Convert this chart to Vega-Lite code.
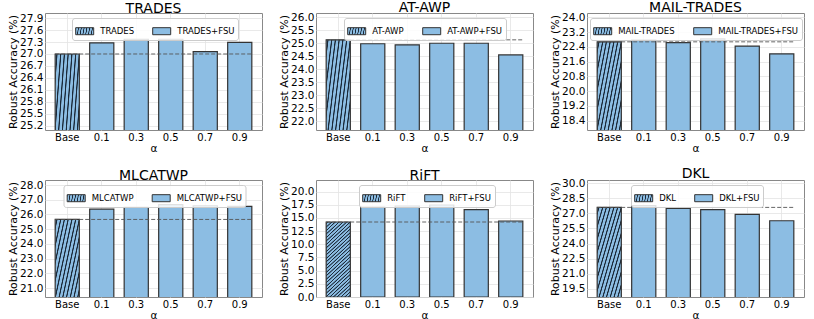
{
  "$schema": "https://vega.github.io/schema/vega-lite/v6.json",
  "padding": {"left": 7, "top": 0, "right": 0, "bottom": 0},
  "params": [
    {"name": "bhatch", "value": {"gradient": "linear", "x1": 0, "y1": 0, "x2": 0.358, "y2": 1.193, "stops": [
      {"offset": 0.008, "color": "#8cbde3"}, {"offset": 0.014, "color": "#1b2a3a"}, {"offset": 0.020, "color": "#1b2a3a"}, {"offset": 0.026, "color": "#8cbde3"},
      {"offset": 0.044, "color": "#8cbde3"}, {"offset": 0.050, "color": "#1b2a3a"}, {"offset": 0.056, "color": "#1b2a3a"}, {"offset": 0.062, "color": "#8cbde3"},
      {"offset": 0.079, "color": "#8cbde3"}, {"offset": 0.085, "color": "#1b2a3a"}, {"offset": 0.091, "color": "#1b2a3a"}, {"offset": 0.097, "color": "#8cbde3"},
      {"offset": 0.115, "color": "#8cbde3"}, {"offset": 0.121, "color": "#1b2a3a"}, {"offset": 0.127, "color": "#1b2a3a"}, {"offset": 0.133, "color": "#8cbde3"},
      {"offset": 0.151, "color": "#8cbde3"}, {"offset": 0.157, "color": "#1b2a3a"}, {"offset": 0.163, "color": "#1b2a3a"}, {"offset": 0.169, "color": "#8cbde3"},
      {"offset": 0.187, "color": "#8cbde3"}, {"offset": 0.193, "color": "#1b2a3a"}, {"offset": 0.199, "color": "#1b2a3a"}, {"offset": 0.205, "color": "#8cbde3"},
      {"offset": 0.222, "color": "#8cbde3"}, {"offset": 0.228, "color": "#1b2a3a"}, {"offset": 0.234, "color": "#1b2a3a"}, {"offset": 0.240, "color": "#8cbde3"},
      {"offset": 0.258, "color": "#8cbde3"}, {"offset": 0.264, "color": "#1b2a3a"}, {"offset": 0.270, "color": "#1b2a3a"}, {"offset": 0.276, "color": "#8cbde3"},
      {"offset": 0.294, "color": "#8cbde3"}, {"offset": 0.300, "color": "#1b2a3a"}, {"offset": 0.306, "color": "#1b2a3a"}, {"offset": 0.312, "color": "#8cbde3"},
      {"offset": 0.329, "color": "#8cbde3"}, {"offset": 0.335, "color": "#1b2a3a"}, {"offset": 0.341, "color": "#1b2a3a"}, {"offset": 0.347, "color": "#8cbde3"},
      {"offset": 0.365, "color": "#8cbde3"}, {"offset": 0.371, "color": "#1b2a3a"}, {"offset": 0.377, "color": "#1b2a3a"}, {"offset": 0.383, "color": "#8cbde3"},
      {"offset": 0.401, "color": "#8cbde3"}, {"offset": 0.407, "color": "#1b2a3a"}, {"offset": 0.413, "color": "#1b2a3a"}, {"offset": 0.419, "color": "#8cbde3"},
      {"offset": 0.437, "color": "#8cbde3"}, {"offset": 0.443, "color": "#1b2a3a"}, {"offset": 0.449, "color": "#1b2a3a"}, {"offset": 0.455, "color": "#8cbde3"},
      {"offset": 0.472, "color": "#8cbde3"}, {"offset": 0.478, "color": "#1b2a3a"}, {"offset": 0.484, "color": "#1b2a3a"}, {"offset": 0.490, "color": "#8cbde3"},
      {"offset": 0.508, "color": "#8cbde3"}, {"offset": 0.514, "color": "#1b2a3a"}, {"offset": 0.520, "color": "#1b2a3a"}, {"offset": 0.526, "color": "#8cbde3"},
      {"offset": 0.544, "color": "#8cbde3"}, {"offset": 0.550, "color": "#1b2a3a"}, {"offset": 0.556, "color": "#1b2a3a"}, {"offset": 0.562, "color": "#8cbde3"},
      {"offset": 0.579, "color": "#8cbde3"}, {"offset": 0.585, "color": "#1b2a3a"}, {"offset": 0.591, "color": "#1b2a3a"}, {"offset": 0.597, "color": "#8cbde3"},
      {"offset": 0.615, "color": "#8cbde3"}, {"offset": 0.621, "color": "#1b2a3a"}, {"offset": 0.627, "color": "#1b2a3a"}, {"offset": 0.633, "color": "#8cbde3"},
      {"offset": 0.651, "color": "#8cbde3"}, {"offset": 0.657, "color": "#1b2a3a"}, {"offset": 0.663, "color": "#1b2a3a"}, {"offset": 0.669, "color": "#8cbde3"},
      {"offset": 0.687, "color": "#8cbde3"}, {"offset": 0.693, "color": "#1b2a3a"}, {"offset": 0.699, "color": "#1b2a3a"}, {"offset": 0.705, "color": "#8cbde3"},
      {"offset": 0.722, "color": "#8cbde3"}, {"offset": 0.728, "color": "#1b2a3a"}, {"offset": 0.734, "color": "#1b2a3a"}, {"offset": 0.740, "color": "#8cbde3"},
      {"offset": 0.758, "color": "#8cbde3"}, {"offset": 0.764, "color": "#1b2a3a"}, {"offset": 0.770, "color": "#1b2a3a"}, {"offset": 0.776, "color": "#8cbde3"},
      {"offset": 0.794, "color": "#8cbde3"}, {"offset": 0.800, "color": "#1b2a3a"}, {"offset": 0.806, "color": "#1b2a3a"}, {"offset": 0.812, "color": "#8cbde3"},
      {"offset": 0.829, "color": "#8cbde3"}, {"offset": 0.835, "color": "#1b2a3a"}, {"offset": 0.841, "color": "#1b2a3a"}, {"offset": 0.847, "color": "#8cbde3"},
      {"offset": 0.865, "color": "#8cbde3"}, {"offset": 0.871, "color": "#1b2a3a"}, {"offset": 0.877, "color": "#1b2a3a"}, {"offset": 0.883, "color": "#8cbde3"},
      {"offset": 0.901, "color": "#8cbde3"}, {"offset": 0.907, "color": "#1b2a3a"}, {"offset": 0.913, "color": "#1b2a3a"}, {"offset": 0.919, "color": "#8cbde3"},
      {"offset": 0.937, "color": "#8cbde3"}, {"offset": 0.943, "color": "#1b2a3a"}, {"offset": 0.949, "color": "#1b2a3a"}, {"offset": 0.955, "color": "#8cbde3"},
      {"offset": 0.972, "color": "#8cbde3"}, {"offset": 0.978, "color": "#1b2a3a"}, {"offset": 0.984, "color": "#1b2a3a"}, {"offset": 0.990, "color": "#8cbde3"}
    ]}},
    {"name": "lhatch", "value": {"gradient": "linear", "x1": 0, "y1": 0, "x2": 1.206, "y2": 0.469, "stops": [
      {"offset": 0.03, "color": "#8cbde3"}, {"offset": 0.06, "color": "#1b2a3a"}, {"offset": 0.09, "color": "#1b2a3a"}, {"offset": 0.12, "color": "#8cbde3"},
      {"offset": 0.197, "color": "#8cbde3"}, {"offset": 0.227, "color": "#1b2a3a"}, {"offset": 0.257, "color": "#1b2a3a"}, {"offset": 0.287, "color": "#8cbde3"},
      {"offset": 0.363, "color": "#8cbde3"}, {"offset": 0.393, "color": "#1b2a3a"}, {"offset": 0.423, "color": "#1b2a3a"}, {"offset": 0.453, "color": "#8cbde3"},
      {"offset": 0.53, "color": "#8cbde3"}, {"offset": 0.56, "color": "#1b2a3a"}, {"offset": 0.59, "color": "#1b2a3a"}, {"offset": 0.62, "color": "#8cbde3"},
      {"offset": 0.697, "color": "#8cbde3"}, {"offset": 0.727, "color": "#1b2a3a"}, {"offset": 0.757, "color": "#1b2a3a"}, {"offset": 0.787, "color": "#8cbde3"},
      {"offset": 0.863, "color": "#8cbde3"}, {"offset": 0.893, "color": "#1b2a3a"}, {"offset": 0.923, "color": "#1b2a3a"}, {"offset": 0.953, "color": "#8cbde3"}
    ]}}
  ],
  "data": {"values": [
    {"p": "TRADES", "c": "Base", "v": 27.0, "m": "TRADES"},
    {"p": "TRADES", "c": "0.1", "v": 27.28, "m": "TRADES+FSU"},
    {"p": "TRADES", "c": "0.3", "v": 27.37, "m": "TRADES+FSU"},
    {"p": "TRADES", "c": "0.5", "v": 27.37, "m": "TRADES+FSU"},
    {"p": "TRADES", "c": "0.7", "v": 27.06, "m": "TRADES+FSU"},
    {"p": "TRADES", "c": "0.9", "v": 27.29, "m": "TRADES+FSU"},
    {"p": "AT-AWP", "c": "Base", "v": 25.13, "m": "AT-AWP"},
    {"p": "AT-AWP", "c": "0.1", "v": 24.98, "m": "AT-AWP+FSU"},
    {"p": "AT-AWP", "c": "0.3", "v": 24.94, "m": "AT-AWP+FSU"},
    {"p": "AT-AWP", "c": "0.5", "v": 25.0, "m": "AT-AWP+FSU"},
    {"p": "AT-AWP", "c": "0.7", "v": 25.0, "m": "AT-AWP+FSU"},
    {"p": "AT-AWP", "c": "0.9", "v": 24.55, "m": "AT-AWP+FSU"},
    {"p": "MAIL-TRADES", "c": "Base", "v": 22.67, "m": "MAIL-TRADES"},
    {"p": "MAIL-TRADES", "c": "0.1", "v": 22.76, "m": "MAIL-TRADES+FSU"},
    {"p": "MAIL-TRADES", "c": "0.3", "v": 22.63, "m": "MAIL-TRADES+FSU"},
    {"p": "MAIL-TRADES", "c": "0.5", "v": 22.83, "m": "MAIL-TRADES+FSU"},
    {"p": "MAIL-TRADES", "c": "0.7", "v": 22.44, "m": "MAIL-TRADES+FSU"},
    {"p": "MAIL-TRADES", "c": "0.9", "v": 22.02, "m": "MAIL-TRADES+FSU"},
    {"p": "MLCATWP", "c": "Base", "v": 25.66, "m": "MLCATWP"},
    {"p": "MLCATWP", "c": "0.1", "v": 26.36, "m": "MLCATWP+FSU"},
    {"p": "MLCATWP", "c": "0.3", "v": 26.48, "m": "MLCATWP+FSU"},
    {"p": "MLCATWP", "c": "0.5", "v": 26.66, "m": "MLCATWP+FSU"},
    {"p": "MLCATWP", "c": "0.7", "v": 26.59, "m": "MLCATWP+FSU"},
    {"p": "MLCATWP", "c": "0.9", "v": 26.55, "m": "MLCATWP+FSU"},
    {"p": "RiFT", "c": "Base", "v": 14.23, "m": "RiFT"},
    {"p": "RiFT", "c": "0.1", "v": 17.08, "m": "RiFT+FSU"},
    {"p": "RiFT", "c": "0.3", "v": 17.27, "m": "RiFT+FSU"},
    {"p": "RiFT", "c": "0.5", "v": 17.46, "m": "RiFT+FSU"},
    {"p": "RiFT", "c": "0.7", "v": 16.57, "m": "RiFT+FSU"},
    {"p": "RiFT", "c": "0.9", "v": 14.42, "m": "RiFT+FSU"},
    {"p": "DKL", "c": "Base", "v": 27.6, "m": "DKL"},
    {"p": "DKL", "c": "0.1", "v": 27.77, "m": "DKL+FSU"},
    {"p": "DKL", "c": "0.3", "v": 27.5, "m": "DKL+FSU"},
    {"p": "DKL", "c": "0.5", "v": 27.37, "m": "DKL+FSU"},
    {"p": "DKL", "c": "0.7", "v": 26.9, "m": "DKL+FSU"},
    {"p": "DKL", "c": "0.9", "v": 26.27, "m": "DKL+FSU"}
  ]},
  "columns": 3,
  "spacing": {"row": 12, "column": 15},
  "resolve": {"scale": {"fill": "independent", "y": "independent", "x": "independent"}, "legend": {"fill": "independent"}},
  "concat": [
    {"title": {"text": "TRADES", "fontWeight": 400}, "width": 217, "height": 117,
     "transform": [{"filter": "datum.p == 'TRADES'"}],
     "layer": [
      {"mark": {"type": "bar", "stroke": "#333333", "strokeWidth": 1.2, "clip": true},
       "encoding": {
        "x": {"field": "c", "type": "nominal", "sort": null, "scale": {"paddingInner": 0.3, "paddingOuter": 0.295}, "axis": {"title": "α", "labelOverlap": false}},
        "y": {"field": "v", "type": "quantitative", "scale": {"domain": [25.09, 28.03], "zero": false, "nice": false}, "axis": {"title": "Robust Accuracy (%)", "labelOverlap": false, "tickCount": 50, "values": [25.2, 25.5, 25.8, 26.1, 26.4, 26.7, 27.0, 27.3, 27.6, 27.9], "format": ".1f"}},
        "fill": {"field": "m", "type": "nominal", "scale": {"range": [{"expr": "bhatch"}, "#8cbde3"]}, "legend": {"legendX": 27, "legendY": 5, "encode": {"symbols": {"update": {"fill": [{"test": "indexof(datum.value,'+FSU')<0", "signal": "lhatch"}, {"value": "#8cbde3"}], "stroke": {"value": "#333333"}, "strokeWidth": {"value": 1}, "opacity": {"value": 1}}}}}}
       }},
      {"transform": [{"filter": "datum.c == 'Base'"}],
       "mark": {"type": "rule", "strokeDash": [4, 2], "color": "#555555", "strokeWidth": 0.9},
       "encoding": {"y": {"field": "v", "type": "quantitative"}, "x": {"datum": "Base", "bandPosition": 0}, "x2": {"datum": "0.9", "bandPosition": 1}}}
     ]},
    {"title": {"text": "AT-AWP", "fontWeight": 400}, "width": 217, "height": 117,
     "transform": [{"filter": "datum.p == 'AT-AWP'"}],
     "layer": [
      {"mark": {"type": "bar", "stroke": "#333333", "strokeWidth": 1.2, "clip": true},
       "encoding": {
        "x": {"field": "c", "type": "nominal", "sort": null, "scale": {"paddingInner": 0.3, "paddingOuter": 0.295}, "axis": {"title": "α", "labelOverlap": false}},
        "y": {"field": "v", "type": "quantitative", "scale": {"domain": [21.67, 26.16], "zero": false, "nice": false}, "axis": {"title": "Robust Accuracy (%)", "labelOverlap": false, "tickCount": 50, "values": [22.0, 22.5, 23.0, 23.5, 24.0, 24.5, 25.0, 25.5, 26.0], "format": ".1f"}},
        "fill": {"field": "m", "type": "nominal", "scale": {"range": [{"expr": "bhatch"}, "#8cbde3"]}, "legend": {"legendX": 28, "legendY": 5, "encode": {"symbols": {"update": {"fill": [{"test": "indexof(datum.value,'+FSU')<0", "signal": "lhatch"}, {"value": "#8cbde3"}], "stroke": {"value": "#333333"}, "strokeWidth": {"value": 1}, "opacity": {"value": 1}}}}}}
       }},
      {"transform": [{"filter": "datum.c == 'Base'"}],
       "mark": {"type": "rule", "strokeDash": [4, 2], "color": "#555555", "strokeWidth": 0.9},
       "encoding": {"y": {"field": "v", "type": "quantitative"}, "x": {"datum": "Base", "bandPosition": 0}, "x2": {"datum": "0.9", "bandPosition": 1}}}
     ]},
    {"title": {"text": "MAIL-TRADES", "fontWeight": 400}, "width": 217, "height": 117,
     "transform": [{"filter": "datum.p == 'MAIL-TRADES'"}],
     "layer": [
      {"mark": {"type": "bar", "stroke": "#333333", "strokeWidth": 1.2, "clip": true},
       "encoding": {
        "x": {"field": "c", "type": "nominal", "sort": null, "scale": {"paddingInner": 0.3, "paddingOuter": 0.295}, "axis": {"title": "α", "labelOverlap": false}},
        "y": {"field": "v", "type": "quantitative", "scale": {"domain": [17.9, 24.23], "zero": false, "nice": false}, "axis": {"title": "Robust Accuracy (%)", "labelOverlap": false, "tickCount": 50, "values": [18.4, 19.2, 20.0, 20.8, 21.6, 22.4, 23.2, 24.0], "format": ".1f"}},
        "fill": {"field": "m", "type": "nominal", "scale": {"range": [{"expr": "bhatch"}, "#8cbde3"]}, "legend": {"legendX": 3, "legendY": 5, "encode": {"symbols": {"update": {"fill": [{"test": "indexof(datum.value,'+FSU')<0", "signal": "lhatch"}, {"value": "#8cbde3"}], "stroke": {"value": "#333333"}, "strokeWidth": {"value": 1}, "opacity": {"value": 1}}}}}}
       }},
      {"transform": [{"filter": "datum.c == 'Base'"}],
       "mark": {"type": "rule", "strokeDash": [4, 2], "color": "#555555", "strokeWidth": 0.9},
       "encoding": {"y": {"field": "v", "type": "quantitative"}, "x": {"datum": "Base", "bandPosition": 0}, "x2": {"datum": "0.9", "bandPosition": 1}}}
     ]},
    {"title": {"text": "MLCATWP", "fontWeight": 400}, "width": 217, "height": 117,
     "transform": [{"filter": "datum.p == 'MLCATWP'"}],
     "layer": [
      {"mark": {"type": "bar", "stroke": "#333333", "strokeWidth": 1.2, "clip": true},
       "encoding": {
        "x": {"field": "c", "type": "nominal", "sort": null, "scale": {"paddingInner": 0.3, "paddingOuter": 0.295}, "axis": {"title": "α", "labelOverlap": false}},
        "y": {"field": "v", "type": "quantitative", "scale": {"domain": [20.39, 28.34], "zero": false, "nice": false}, "axis": {"title": "Robust Accuracy (%)", "labelOverlap": false, "tickCount": 50, "values": [21, 22, 23, 24, 25, 26, 27, 28], "format": ".1f"}},
        "fill": {"field": "m", "type": "nominal", "scale": {"range": [{"expr": "bhatch"}, "#8cbde3"]}, "legend": {"legendX": 18.5, "legendY": 5, "encode": {"symbols": {"update": {"fill": [{"test": "indexof(datum.value,'+FSU')<0", "signal": "lhatch"}, {"value": "#8cbde3"}], "stroke": {"value": "#333333"}, "strokeWidth": {"value": 1}, "opacity": {"value": 1}}}}}}
       }},
      {"transform": [{"filter": "datum.c == 'Base'"}],
       "mark": {"type": "rule", "strokeDash": [4, 2], "color": "#555555", "strokeWidth": 0.9},
       "encoding": {"y": {"field": "v", "type": "quantitative"}, "x": {"datum": "Base", "bandPosition": 0}, "x2": {"datum": "0.9", "bandPosition": 1}}}
     ]},
    {"title": {"text": "RiFT", "fontWeight": 400}, "width": 217, "height": 117,
     "transform": [{"filter": "datum.p == 'RiFT'"}],
     "layer": [
      {"mark": {"type": "bar", "stroke": "#333333", "strokeWidth": 1.2, "clip": true},
       "encoding": {
        "x": {"field": "c", "type": "nominal", "sort": null, "scale": {"paddingInner": 0.3, "paddingOuter": 0.295}, "axis": {"title": "α", "labelOverlap": false}},
        "y": {"field": "v", "type": "quantitative", "scale": {"domain": [0, 22.2], "zero": false, "nice": false}, "axis": {"title": "Robust Accuracy (%)", "labelOverlap": false, "tickCount": 50, "values": [0, 2.5, 5, 7.5, 10, 12.5, 15, 17.5, 20], "format": ".1f"}},
        "fill": {"field": "m", "type": "nominal", "scale": {"range": [{"expr": "bhatch"}, "#8cbde3"]}, "legend": {"legendX": 43, "legendY": 5, "encode": {"symbols": {"update": {"fill": [{"test": "indexof(datum.value,'+FSU')<0", "signal": "lhatch"}, {"value": "#8cbde3"}], "stroke": {"value": "#333333"}, "strokeWidth": {"value": 1}, "opacity": {"value": 1}}}}}}
       }},
      {"transform": [{"filter": "datum.c == 'Base'"}],
       "mark": {"type": "rule", "strokeDash": [4, 2], "color": "#555555", "strokeWidth": 0.9},
       "encoding": {"y": {"field": "v", "type": "quantitative"}, "x": {"datum": "Base", "bandPosition": 0}, "x2": {"datum": "0.9", "bandPosition": 1}}}
     ]},
    {"title": {"text": "DKL", "fontWeight": 400}, "width": 217, "height": 117,
     "transform": [{"filter": "datum.p == 'DKL'"}],
     "layer": [
      {"mark": {"type": "bar", "stroke": "#333333", "strokeWidth": 1.2, "clip": true},
       "encoding": {
        "x": {"field": "c", "type": "nominal", "sort": null, "scale": {"paddingInner": 0.3, "paddingOuter": 0.295}, "axis": {"title": "α", "labelOverlap": false}},
        "y": {"field": "v", "type": "quantitative", "scale": {"domain": [18.67, 30.33], "zero": false, "nice": false}, "axis": {"title": "Robust Accuracy (%)", "labelOverlap": false, "tickCount": 50, "values": [19.5, 21, 22.5, 24, 25.5, 27, 28.5, 30], "format": ".1f"}},
        "fill": {"field": "m", "type": "nominal", "scale": {"range": [{"expr": "bhatch"}, "#8cbde3"]}, "legend": {"legendX": 44, "legendY": 5, "encode": {"symbols": {"update": {"fill": [{"test": "indexof(datum.value,'+FSU')<0", "signal": "lhatch"}, {"value": "#8cbde3"}], "stroke": {"value": "#333333"}, "strokeWidth": {"value": 1}, "opacity": {"value": 1}}}}}}
       }},
      {"transform": [{"filter": "datum.c == 'Base'"}],
       "mark": {"type": "rule", "strokeDash": [4, 2], "color": "#555555", "strokeWidth": 0.9},
       "encoding": {"y": {"field": "v", "type": "quantitative"}, "x": {"datum": "Base", "bandPosition": 0}, "x2": {"datum": "0.9", "bandPosition": 1}}}
     ]}
  ],
  "config": {
    "font": "DejaVu Sans",
    "view": {"stroke": "#888888", "strokeWidth": 1},
    "title": {"fontSize": 14, "fontWeight": 400, "font": "DejaVu Sans", "offset": -3, "color": "#000000"},
    "style": {"group-title": {"fontWeight": 400, "fontSize": 14}},
    "axis": {"labelFont": "DejaVu Sans", "titleFont": "DejaVu Sans", "labelFontSize": 10.5, "titleFontSize": 11, "titleFontWeight": "normal", "labelColor": "#000000", "titleColor": "#000000", "ticks": false, "tickSize": 0, "domain": false, "labelPadding": 2, "titlePadding": 1, "labelOverlap": false, "grid": true, "gridColor": "#e3e3e3", "gridWidth": 0.8},
    "axisX": {"labelAngle": 0, "bandPosition": 0.5, "titleFontSize": 10.5, "labelFontSize": 10},
    "legend": {"orient": "none", "direction": "horizontal", "title": null, "labelFont": "DejaVu Sans", "labelFontSize": 8.5, "labelColor": "#000000", "symbolType": "M-1,-0.39H1V0.39H-1Z", "symbolSize": 324, "labelOffset": 6, "columnPadding": 16, "padding": 3.2, "fillColor": "rgba(255,255,255,0.85)", "strokeColor": "#cccccc", "cornerRadius": 2.5, "symbolStrokeColor": "#333333", "symbolStrokeWidth": 1}
  }
}
